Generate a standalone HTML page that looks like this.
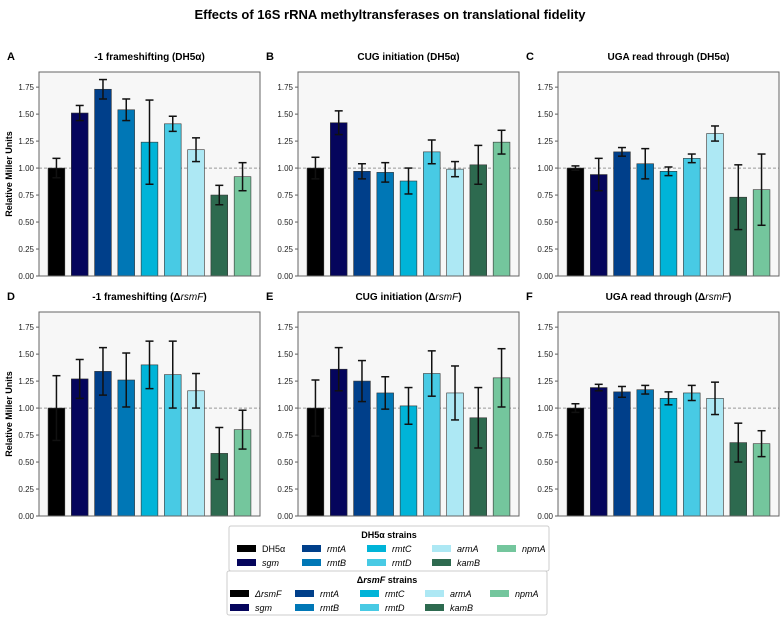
<!DOCTYPE html>
<html><head><meta charset="utf-8"><style>
body{margin:0;background:#fff;font-family:"Liberation Sans",sans-serif}
svg text{font-family:"Liberation Sans",sans-serif}
</style></head><body>
<svg id="fig" width="781" height="616" viewBox="0 0 781 616" xmlns="http://www.w3.org/2000/svg">
<text x="390" y="19" text-anchor="middle" font-size="13" font-weight="bold">Effects of 16S rRNA methyltransferases on translational fidelity</text>
<g id="panels"></g>
<g id="legends"></g>
</svg>
<script>
const strains = ["WT","sgm","rmtA","rmtB","rmtC","rmtD","armA","kamB","npmA"];
const colors = ["#000000","#05055c","#003f8a","#0077b6","#00b4d8","#48cae4","#ade8f4","#2d6a4f","#74c69d"];
const panelTitles = ["-1 frameshifting (DH5α)","CUG initiation (DH5α)","UGA read through (DH5α)","-1 frameshifting (Δ<i>rsmF</i>)","CUG initiation (Δ<i>rsmF</i>)","UGA read through (Δ<i>rsmF</i>)"];
const panelLetters = ["A","B","C","D","E","F"];
const meansA = [1.00,1.51,1.73,1.54,1.24,1.41,1.17,0.75,0.92];
const errsA  = [0.09,0.07,0.09,0.10,0.39,0.07,0.11,0.09,0.13];
const meansB = [1.00,1.42,0.97,0.96,0.88,1.15,0.99,1.03,1.24];
const errsB  = [0.10,0.11,0.07,0.09,0.12,0.11,0.07,0.18,0.11];
const meansC = [1.00,0.94,1.15,1.04,0.97,1.09,1.32,0.73,0.80];
const errsC  = [0.02,0.15,0.04,0.14,0.04,0.04,0.07,0.30,0.33];
const meansD = [1.00,1.27,1.34,1.26,1.40,1.31,1.16,0.58,0.80];
const errsD  = [0.30,0.18,0.22,0.25,0.22,0.31,0.16,0.24,0.18];
const meansE = [1.00,1.36,1.25,1.14,1.02,1.32,1.14,0.91,1.28];
const errsE  = [0.26,0.20,0.19,0.15,0.17,0.21,0.25,0.28,0.27];
const meansF = [1.00,1.19,1.15,1.17,1.09,1.14,1.09,0.68,0.67];
const errsF  = [0.04,0.03,0.05,0.04,0.06,0.07,0.15,0.18,0.12];
const yTicks = [0,0.25,0.5,0.75,1.0,1.25,1.5,1.75];
const yTickLabels = ["0.00","0.25","0.50","0.75","1.00","1.25","1.50","1.75"];
const allMeans=[meansA,meansB,meansC,meansD,meansE,meansF];
const allErrs=[errsA,errsB,errsC,errsD,errsE,errsF];
const NS="http://www.w3.org/2000/svg";
function mk(tag,attrs,parent){const e=document.createElementNS(NS,tag);for(const k in attrs)e.setAttribute(k,attrs[k]);parent.appendChild(e);return e;}
const panelsG=document.getElementById('panels');
const lefts=[39,298,558], tops=[72,312], W=221, H=204, YMAX=1.89;
for(let p=0;p<6;p++){
  const L=lefts[p%3], T=tops[Math.floor(p/3)];
  const g=mk('g',{},panelsG);
  
  
  const xs=i=>L+(i+0.75)*W/9.5;
  const ys=v=>T+H-v/YMAX*H;
  const bg=mk('rect',{x:L,y:T,width:W,height:H,fill:'#f7f7f7',stroke:'none'},g);
  
  
  // ticks
  yTicks.forEach((t,i)=>{
    const y=ys(t);
    mk('line',{x1:L-3,x2:L,y1:y,y2:y,stroke:'#333','stroke-width':0.8},g);
    const tx=mk('text',{x:L-5,y:y+3,'text-anchor':'end','font-size':8,fill:'#222'},g);
    tx.textContent=yTickLabels[i];
    
    
  });
  const ref=mk('line',{x1:L,x2:L+W,y1:ys(1),y2:ys(1),stroke:'#999','stroke-width':1,'stroke-dasharray':'3,2'},g);
  
  
  const m=allMeans[p], e=allErrs[p], bw=0.72*W/9.5;
  m.forEach((v,i)=>{
    const cx=xs(i);
    const b=mk('rect',{x:cx-bw/2,y:ys(v),width:bw,height:ys(0)-ys(v),fill:colors[i],stroke:'#333','stroke-width':0.6},g);
    
    
    const eb=mk('g',{stroke:'#111','stroke-width':1.5},g);
    
    
    mk('line',{x1:cx,x2:cx,y1:ys(v+e[i]),y2:ys(v-e[i])},eb);
    mk('line',{x1:cx-4,x2:cx+4,y1:ys(v+e[i]),y2:ys(v+e[i])},eb);
    mk('line',{x1:cx-4,x2:cx+4,y1:ys(v-e[i]),y2:ys(v-e[i])},eb);
  });
  mk('rect',{x:L,y:T,width:W,height:H,fill:'none',stroke:'#666','stroke-width':1},g);
  const lt=mk('text',{x:L-32,y:T-12,'font-size':11,'font-weight':'bold'},g);
  lt.textContent=panelLetters[p];
  
  
  const tt=mk('text',{x:L+W/2,y:T-12,'text-anchor':'middle','font-size':10,'font-weight':'bold'},g);
  tt.innerHTML=panelTitles[p].replace(/<i>(.*?)<\/i>/,'<tspan font-style="italic" font-weight="normal">$1</tspan>');
  
  
  if(p%3===0){
    const yl=mk('text',{x:12,y:T+H/2,'text-anchor':'middle','font-size':9,'font-weight':'bold',transform:`rotate(-90 12 ${T+H/2})`},g);
    yl.textContent='Relative Miller Units';
    
    
  }
}
// legends
const legG=document.getElementById('legends');
const legNames=[["DH5α","rmtA","rmtC","armA","npmA","sgm","rmtB","rmtD","kamB"],["ΔrsmF","rmtA","rmtC","armA","npmA","sgm","rmtB","rmtD","kamB"]];
const legIdx=[0,2,4,6,8,1,3,5,7];
[[229,526,"DH5α strains"],[227,571,"ΔrsmF strains"]].forEach((b,k)=>{
  const g=mk('g',{},legG);
  
  
  mk('rect',{x:b[0],y:b[1],width:320,height:k?44:45,fill:'#fff',stroke:'#ccc','stroke-width':1,rx:2},g);
  const t=mk('text',{x:b[0]+160-(k?0:0),y:b[1]+12,'text-anchor':'middle','font-size':9,'font-weight':'bold'},g);
  t.innerHTML=k?'Δ<tspan font-style="italic">rsmF</tspan> strains':'DH5α strains';
  legNames[k].forEach((n,j)=>{
    const col=j%5,row=j<5?0:1;
    const x=b[0]+(k?3:8)+col*65, y=b[1]+19+row*14;
    const e=mk('g',{},g);
    
    
    mk('rect',{x:x,y:y,width:19,height:7,fill:colors[legIdx[j]]},e);
    const tx=mk('text',{x:x+25,y:y+7,'font-size':9,'font-style':(n==="DH5α")?'normal':'italic'},e);
    tx.textContent=n;
  });
});
</script>
</body></html>
